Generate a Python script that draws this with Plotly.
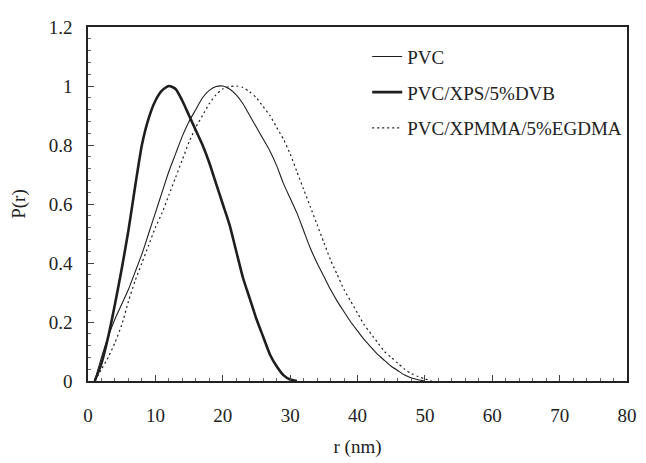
import plotly.graph_objects as go

# r (nm) grids and P(r) values
r_pvc = list(range(1, 51))
p_pvc = [0, 0.08, 0.15, 0.21, 0.26, 0.31, 0.37, 0.43, 0.50, 0.57,
         0.64, 0.71, 0.77, 0.83, 0.88, 0.92, 0.96, 0.985, 0.998, 1.0,
         0.99, 0.97, 0.94, 0.90, 0.86, 0.82, 0.78, 0.73, 0.67, 0.62,
         0.57, 0.51, 0.45, 0.40, 0.355, 0.31, 0.27, 0.235, 0.20, 0.17,
         0.14, 0.115, 0.09, 0.07, 0.05, 0.035, 0.02, 0.01, 0.004, 0]

r_dvb = list(range(1, 32))
p_dvb = [0, 0.06, 0.15, 0.26, 0.38, 0.51, 0.66, 0.80, 0.89, 0.95,
         0.985, 1.0, 0.99, 0.95, 0.90, 0.85, 0.80, 0.74, 0.67, 0.60,
         0.53, 0.44, 0.35, 0.28, 0.21, 0.15, 0.09, 0.05, 0.02, 0.005, 0]

r_egd = list(range(1, 52))
p_egd = [0, 0.04, 0.08, 0.13, 0.19, 0.27, 0.34, 0.40, 0.46, 0.52,
         0.57, 0.63, 0.69, 0.75, 0.81, 0.86, 0.90, 0.94, 0.97, 0.99,
         0.998, 1.0, 0.995, 0.98, 0.96, 0.93, 0.90, 0.86, 0.82, 0.77,
         0.71, 0.65, 0.59, 0.53, 0.47, 0.41, 0.36, 0.31, 0.27, 0.23,
         0.19, 0.16, 0.13, 0.10, 0.08, 0.06, 0.04, 0.025, 0.015, 0.007, 0]

names = ["PVC", "PVC/XPS/5%DVB", "PVC/XPMMA/5%EGDMA"]
x_ticks = [0, 10, 20, 30, 40, 50, 60, 70, 80]
y_ticks = [0, 0.2, 0.4, 0.6, 0.8, 1, 1.2]

FONT = "Liberation Serif, Times New Roman, serif"
INK = "#1e1e1e"

fig = go.Figure()
fig.add_trace(go.Scatter(x=r_pvc, y=p_pvc, mode="lines", name=names[0],
                         legendgroup="a",
                         line=dict(color=INK, width=1.1, shape="spline", smoothing=0.6)))
fig.add_trace(go.Scatter(x=r_dvb, y=p_dvb, mode="lines", name=names[1],
                         legendgroup="b",
                         line=dict(color=INK, width=2.6, shape="spline", smoothing=0.6)))
fig.add_trace(go.Scatter(x=r_egd, y=p_egd, mode="lines", name=names[2],
                         legendgroup="c",
                         line=dict(color=INK, width=1.2, dash="2px,3px", shape="spline", smoothing=0.6)))

axis_common = dict(showline=True, linecolor="#222", linewidth=1.5, mirror=True,
                   ticks="inside", ticklen=6, tickcolor="#444", tickwidth=1,
                   showgrid=False, zeroline=False,
                   tickfont=dict(family=FONT, size=19, color="#222"))

fig.update_xaxes(range=[0, 80], tickvals=x_ticks, ticklabelstandoff=16,
                 minor=dict(ticks="inside", dtick=2, ticklen=3, tickcolor="#666"),
                 title=dict(text="r (nm)", font=dict(family=FONT, size=19, color="#222"), standoff=15),
                 **axis_common)
fig.update_yaxes(range=[0, 1.2], tickvals=y_ticks, ticklabelstandoff=10,
                 minor=dict(ticks="inside", dtick=0.04, ticklen=3, tickcolor="#666"),
                 title=dict(text="P(r)", font=dict(family=FONT, size=19, color="#222"), standoff=18),
                 **axis_common)

# the page body adds an 8px offset, so the figure is sized to fit the 646x463 window
fig.update_layout(
    width=638, height=455,
    margin=dict(l=70, r=12, t=9, b=71),
    plot_bgcolor="white", paper_bgcolor="white",
    font=dict(family=FONT, size=19, color="#222"),
    legend=dict(x=0.518, y=0.97, xanchor="left", yanchor="top",
                bgcolor="rgba(0,0,0,0)", tracegroupgap=8,
                font=dict(family=FONT, size=19, color="#222")),
)

fig.write_html("out.html")
